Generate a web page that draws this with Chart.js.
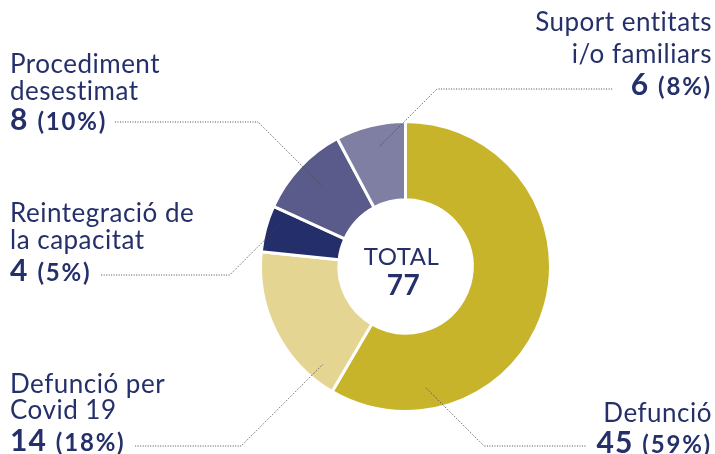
<!DOCTYPE html>
<html>
<head>
<meta charset="utf-8">
<script src="https://cdn.jsdelivr.net/npm/chart.js@4"></script>
<style>
  html, body { margin: 0; padding: 0; background: #fff; }
  #wrap { position: relative; width: 715px; height: 454px; }
</style>
</head>
<body>
<div id="wrap"><canvas id="c" width="715" height="454"></canvas></div>
<script>
const LABELS = ["Defunció", "Defunció per Covid 19", "Reintegració de la capacitat", "Procediment desestimat", "Suport entitats i/o familiars"];
const VALUES = [45, 14, 4, 8, 6];
const PERCENTS = ["59%", "18%", "5%", "10%", "8%"];
const COLORS = ["#c8b42a", "#e5d592", "#232e6a", "#5b5b8b", "#7f7ea3"];
const TOTAL = 77;

// label text lines (as in the original) and where they sit
const LABEL_LINES = [["Defunció"], ["Defunció per", "Covid 19"], ["Reintegració de", "la capacitat"], ["Procediment", "desestimat"], ["Suport entitats", "i/o familiars"]];
const LABEL_POS = [
  { x: 712, y: 422, align: 'right', lh: 27, nh: 31, lineY: 446, t: 0.81, f: 0.72, gap: 10 },
  { x: 10, y: 393, align: 'left', lh: 26, nh: 32, lineY: 446, t: 0.15, f: 0.79, gap: 9 },
  { x: 10, y: 222, align: 'left', lh: 27, nh: 32, lineY: 275, t: 0.70, f: 0.83, gap: 9 },
  { x: 10, y: 73, align: 'left', lh: 27, nh: 30, lineY: 122, t: 0.52, f: 0.63, gap: 7 },
  { x: 712, y: 31, align: 'right', lh: 32, nh: 32, lineY: 89, t: 0.57, f: 0.72, gap: 18 }
];
const NAVY = "#25306b";

function font(ctx, f, sp) { ctx.font = f; ctx.letterSpacing = sp + 'px'; }

const labelPlugin = {
  id: 'labels',
  afterDraw(chart) {
    const ctx = chart.ctx, arcs = chart.getDatasetMeta(0).data;
    ctx.save();
    ctx.fillStyle = NAVY;
    arcs.forEach((arc, i) => {
      const p = LABEL_POS[i], lines = LABEL_LINES[i];
      ctx.textAlign = 'left'; ctx.textBaseline = 'alphabetic';
      // name lines
      font(ctx, '400 26px Lato', 0.5);
      lines.forEach((l, k) => {
        const w = ctx.measureText(l).width;
        ctx.fillText(l, p.align === 'right' ? p.x - w : p.x, p.y + k * p.lh);
      });
      // value + percent
      const numY = p.y + (lines.length - 1) * p.lh + p.nh;
      font(ctx, '700 30px Lato', 1); const n = String(VALUES[i]), wn = ctx.measureText(n).width + 9;
      font(ctx, '700 24px Lato', 1.8); const pc = '(' + PERCENTS[i] + ')', wp = ctx.measureText(pc).width;
      const x0 = p.align === 'right' ? p.x - wn - wp : p.x;
      font(ctx, '700 30px Lato', 1); ctx.fillText(n, x0, numY);
      font(ctx, '700 24px Lato', 1.8); ctx.fillText(pc, x0 + wn, numY);

      // leader line from inside the slice, 45 degrees, then flat to the label
      const { x, y, startAngle, endAngle, innerRadius, outerRadius } = arc.getProps(['x', 'y', 'startAngle', 'endAngle', 'innerRadius', 'outerRadius'], true);
      const a = startAngle + p.t * (endAngle - startAngle);
      const r = innerRadius + p.f * (outerRadius - innerRadius);
      const ax = x + Math.cos(a) * r, ay = y + Math.sin(a) * r;
      const dy = p.lineY - ay;
      const dir = p.align === 'right' ? 1 : -1;
      const ex = ax + dir * Math.abs(dy);
      const endX = p.align === 'right' ? x0 - p.gap : x0 + wn + wp + p.gap;
      ctx.beginPath();
      ctx.strokeStyle = '#4a4a4a'; ctx.lineWidth = 1; ctx.setLineDash([1, 1.5]);
      ctx.moveTo(ax, ay); ctx.lineTo(ex, p.lineY); ctx.lineTo(endX, p.lineY);
      ctx.stroke();
      ctx.setLineDash([]);
    });
    // center total
    const c = arcs[0];
    ctx.textAlign = 'center';
    font(ctx, '400 24px Lato', 0.5); ctx.fillText('TOTAL', c.x - 4, 265);
    font(ctx, '700 28px Lato', 0.5); ctx.fillText(String(TOTAL), c.x - 2, 295);
    ctx.restore();
  }
};

new Chart(document.getElementById('c'), {
  type: 'doughnut',
  data: { labels: LABELS, datasets: [{ data: VALUES, backgroundColor: COLORS, borderColor: '#fff', borderWidth: 3, hoverOffset: 0 }] },
  options: {
    responsive: false, animation: false, radius: 145, cutout: '46%',
    layout: { padding: { left: 96, top: 79, right: 0, bottom: 0 } },
    plugins: { legend: { display: false }, tooltip: { enabled: false } }
  },
  plugins: [labelPlugin]
});
</script>
</body>
</html>
